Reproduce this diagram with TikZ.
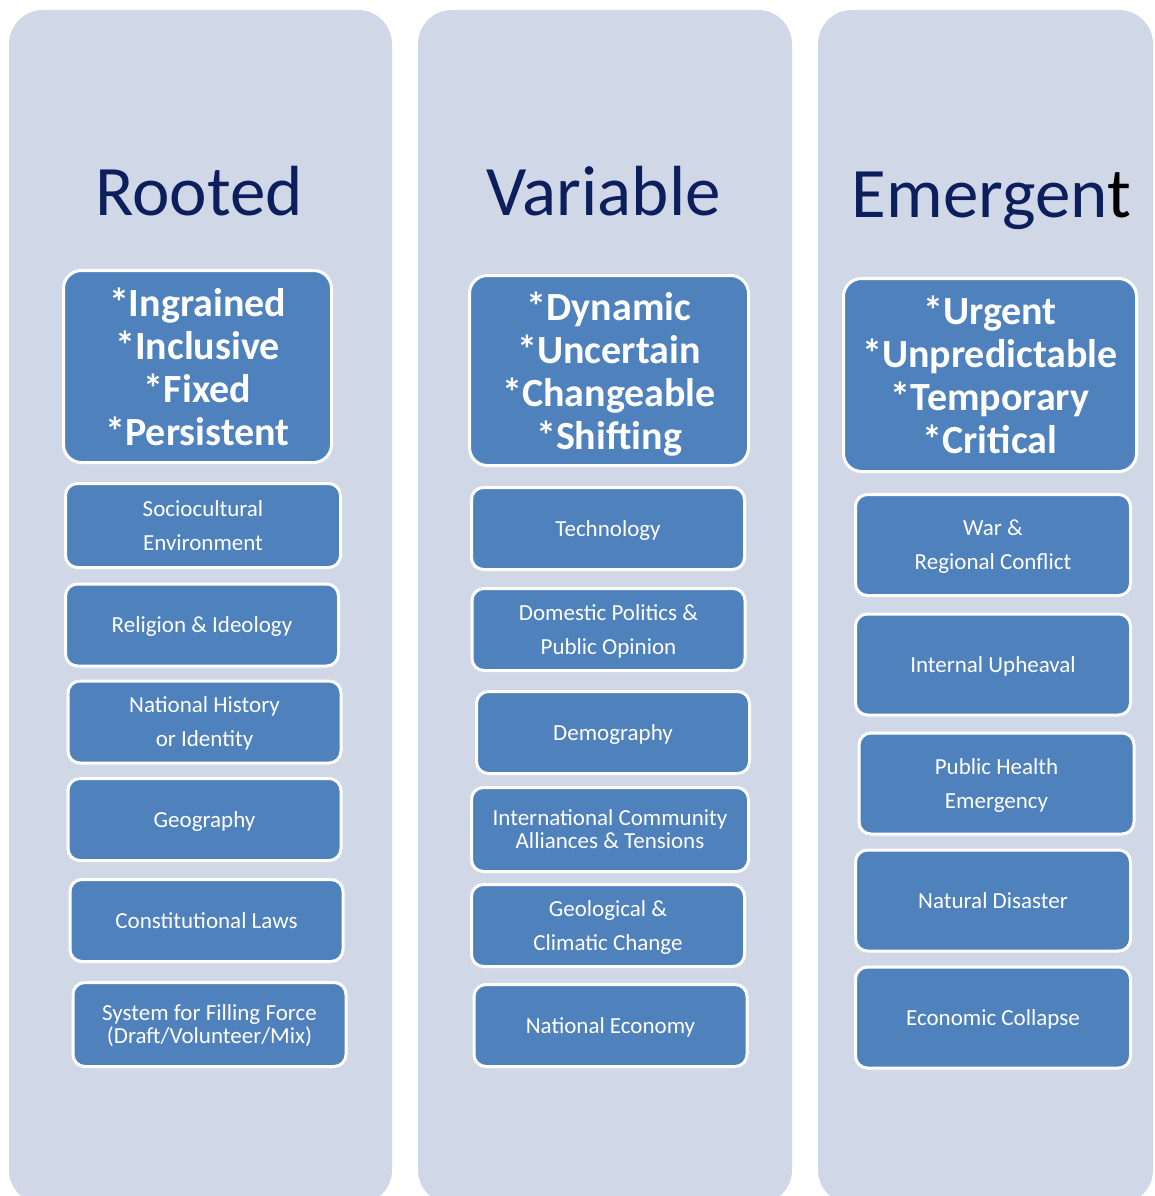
\documentclass[tikz,border=0pt]{standalone}
\usepackage{fontspec}
\setmainfont{Carlito}
\definecolor{colbg}{HTML}{D0D8E8}
\definecolor{boxblue}{HTML}{4F81BD}
\definecolor{titlenavy}{HTML}{0C1F5C}

\begin{document}
\begin{tikzpicture}[x=1pt, y=-1pt,
    coltitle/.style={anchor=base, text=titlenavy, inner sep=0pt, font=\fontsize{71}{71}\selectfont},
    headbox/.style={draw=white, line width=3pt, fill=boxblue, rounded corners=18pt, text=white,
        align=center, inner sep=0pt, text depth=0pt, font=\fontsize{40}{43}\selectfont\bfseries},
    itembox/.style={draw=white, line width=3pt, fill=boxblue, rounded corners=12pt, text=white,
        align=center, inner sep=0pt, text depth=0pt, minimum width=273pt, minimum height=82pt,
        font=\fontsize{23}{34}\selectfont},
    tightbox/.style={font=\fontsize{23}{23}\selectfont},
    tallbox/.style={minimum width=275pt, minimum height=101pt}]

    \useasboundingbox (0,0) rectangle (1154,1196);
    \clip (0,0) rectangle (1154,1196);

    % column backgrounds
    \fill[colbg, rounded corners=34pt] (9,10) rectangle (392,1204);
    \fill[colbg, rounded corners=34pt] (418,10) rectangle (792,1204);
    \fill[colbg, rounded corners=34pt] (818,10) rectangle (1153,1204);

    % rooted
    \node[coltitle] (TR) at (199, 215) {Rooted};
    \node[headbox, minimum width=268pt, minimum height=192pt] (R0) at (197.5, 366.5)
        {*Ingrained\\*Inclusive\\*Fixed\\*Persistent};
    \node[itembox, minimum width=275pt, minimum height=84pt] (R1) at (203, 525.5) {Sociocultural\\Environment};
    \node[itembox] (R2) at (202, 625) {Religion \& Ideology};
    \node[itembox] (R3) at (204.5, 722) {National History\\or Identity};
    \node[itembox] (R4) at (204.5, 819.5) {Geography};
    \node[itembox] (R5) at (206.5, 920.5) {Constitutional Laws};
    \node[itembox, tightbox, minimum height=84pt] (R6) at (209.5, 1024.5) {System for Filling Force\\(Draft/Volunteer/Mix)};

    % variable
    \node[coltitle] (TV) at (603.5, 215) {Variable};
    \node[headbox, minimum width=279pt, minimum height=190pt] (V0) at (609, 370.5)
        {*Dynamic\\*Uncertain\\*Changeable\\*Shifting};
    \node[itembox] (V1) at (608, 528.5) {Technology};
    \node[itembox] (V2) at (608.5, 629.5) {Domestic Politics \&\\Public Opinion};
    \node[itembox] (V3) at (613, 732.5) {Demography};
    \node[itembox, tightbox, minimum width=277pt, minimum height=84pt] (V4) at (610, 829.5) {International Community\\Alliances \& Tensions};
    \node[itembox] (V5) at (608, 925.5) {Geological \&\\Climatic Change};
    \node[itembox] (V6) at (610.5, 1025.5) {National Economy};

    % emergent
    \node[coltitle] (TE) at (991.5, 217) {Emergen{\color{black}t}};
    \node[headbox, minimum width=293pt, minimum height=193pt] (E0) at (990, 375)
        {*Urgent\\*Unpredictable\\*Temporary\\*Critical};
    \node[itembox, tallbox] (E1) at (993, 545) {War \&\\Regional Conflict};
    \node[itembox, tallbox] (E2) at (993, 664.5) {Internal Upheaval};
    \node[itembox, tallbox] (E3) at (996.5, 783.5) {Public Health\\Emergency};
    \node[itembox, tallbox] (E4) at (993, 900.5) {Natural Disaster};
    \node[itembox, tallbox] (E5) at (993, 1017.5) {Economic Collapse};
\end{tikzpicture}
\end{document}
